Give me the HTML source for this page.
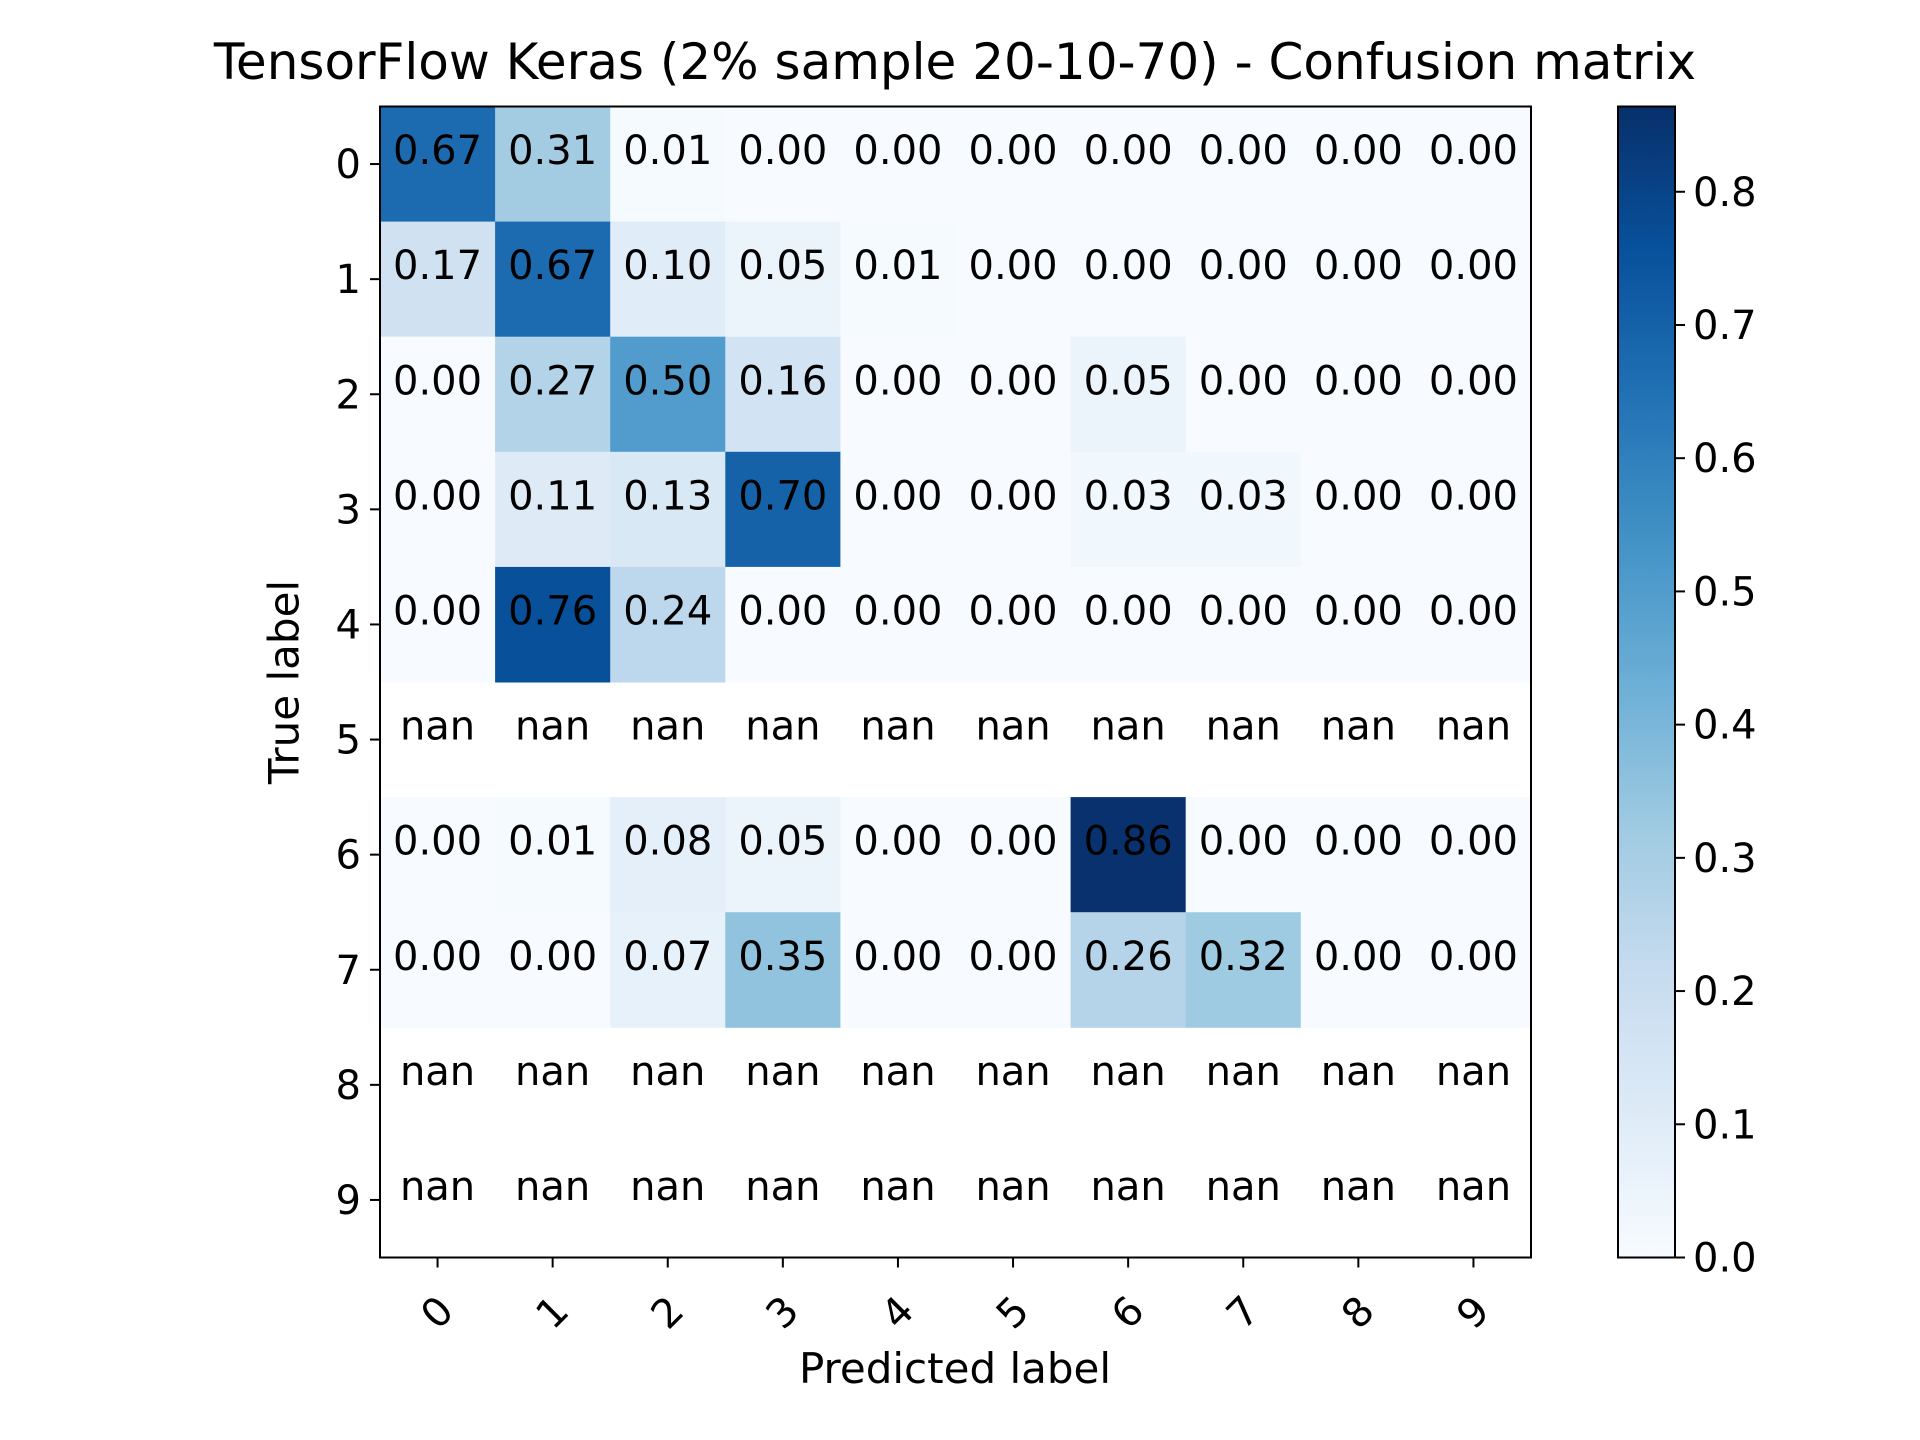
<!DOCTYPE html>
<html><head><meta charset="utf-8"><style>
html,body{margin:0;padding:0;background:#fff;}
svg{display:block;font-family:"DejaVu Sans","Liberation Sans",sans-serif;}
</style></head><body>
<svg id="chart" width="1920" height="1440" viewBox="0 0 1920 1440">
<text x="955" y="79" font-size="50" text-anchor="middle">TensorFlow Keras (2% sample 20-10-70) - Confusion matrix</text>
<g id="cells"></g>
<g id="axes"></g>
<g id="cbar"></g>
<text x="955" y="1383" font-size="42" text-anchor="middle">Predicted label</text>
<text x="0" y="0" font-size="42" text-anchor="middle" dominant-baseline="central" transform="translate(284,682) rotate(-90)">True label</text>
</svg>
<script>
const classes = ["0","1","2","3","4","5","6","7","8","9"];
const matrix = [
 [0.67,0.31,0.01,0.00,0.00,0.00,0.00,0.00,0.00,0.00],
 [0.17,0.67,0.10,0.05,0.01,0.00,0.00,0.00,0.00,0.00],
 [0.00,0.27,0.50,0.16,0.00,0.00,0.05,0.00,0.00,0.00],
 [0.00,0.11,0.13,0.70,0.00,0.00,0.03,0.03,0.00,0.00],
 [0.00,0.76,0.24,0.00,0.00,0.00,0.00,0.00,0.00,0.00],
 [null,null,null,null,null,null,null,null,null,null],
 [0.00,0.01,0.08,0.05,0.00,0.00,0.86,0.00,0.00,0.00],
 [0.00,0.00,0.07,0.35,0.00,0.00,0.26,0.32,0.00,0.00],
 [null,null,null,null,null,null,null,null,null,null],
 [null,null,null,null,null,null,null,null,null,null]
];
const cbarTicks = [0.0,0.1,0.2,0.3,0.4,0.5,0.6,0.7,0.8];
const vmax = 0.864;

const NS="http://www.w3.org/2000/svg";
const L=380,R=1531,T=106.5,B=1257.5;
const n=classes.length, cw=(R-L)/n, ch=(B-T)/n;
const xs=i=>L+i*cw, ys=i=>T+i*ch;
const stops=[[0,"#f7fbff"],[0.125,"#deebf7"],[0.25,"#c6dbef"],[0.375,"#9ecae1"],[0.5,"#6baed6"],[0.625,"#4292c6"],[0.75,"#2171b5"],[0.875,"#08519c"],[1,"#08306b"]];
function hex(h){return [1,3,5].map(k=>parseInt(h.substr(k,2),16));}
function cmap(v){let t=Math.max(0,Math.min(1,v/vmax));for(let k=1;k<stops.length;k++){if(t<=stops[k][0]){const a=hex(stops[k-1][1]),b=hex(stops[k][1]);const f=(t-stops[k-1][0])/(stops[k][0]-stops[k-1][0]);return "rgb("+a.map((c,j)=>Math.round(c+(b[j]-c)*f)).join(",")+")";}}return stops[8][1];}
function mk(tag,attrs,parent){const e=document.createElementNS(NS,tag);for(const k in attrs)e.setAttribute(k,attrs[k]);parent.appendChild(e);return e;}
const cells=document.getElementById("cells"),axes=document.getElementById("axes"),cbar=document.getElementById("cbar");
matrix.forEach((row,r)=>row.forEach((v,c)=>{
 if(v!==null){const rc=mk("rect",{x:xs(c),y:ys(r),width:cw+0.5,height:ch+0.5,fill:cmap(v)},cells);
 
 }
 const t=mk("text",{x:xs(c)+cw/2,y:ys(r)+ch/2,"font-size":"40","text-anchor":"middle"},cells);
 t.textContent=v===null?"nan":v.toFixed(2);
 
 
}));
mk("rect",{x:L,y:T,width:R-L,height:B-T,fill:"none",stroke:"#000","stroke-width":"2"},axes);
classes.forEach((lab,i)=>{
 const cx=xs(i)+cw/2, cy=ys(i)+ch/2;
 mk("line",{x1:cx,y1:B,x2:cx,y2:B+10,stroke:"#000","stroke-width":"2"},axes);
 mk("line",{x1:L,y1:cy,x2:L-10,y2:cy,stroke:"#000","stroke-width":"2"},axes);
 const xt=mk("text",{x:0,y:0,"font-size":"40","text-anchor":"middle","dominant-baseline":"central",transform:"translate("+cx+",1313) rotate(-45)"},axes);
 xt.textContent=lab;
 
 
 const yt=mk("text",{x:L-19,y:cy+14,"font-size":"40","text-anchor":"end"},axes);
 yt.textContent=lab;
 
 
});
const CL=1618,CR=1675;
const grad=mk("linearGradient",{id:"g",x1:"0",y1:"1",x2:"0",y2:"0"},mk("defs",{},cbar));
stops.forEach(s=>mk("stop",{offset:s[0],"stop-color":s[1]},grad));
mk("rect",{x:CL,y:T,width:CR-CL,height:B-T,fill:"url(#g)",stroke:"#000","stroke-width":"2"},cbar);
const cy_=v=>B-(v/vmax)*(B-T);
cbarTicks.forEach(v=>{
 mk("line",{x1:CR,y1:cy_(v),x2:CR+10,y2:cy_(v),stroke:"#000","stroke-width":"2"},cbar);
 const t=mk("text",{x:CR+18,y:cy_(v)+14,"font-size":"40"},cbar);
 t.textContent=v.toFixed(1);
 
 
});
</script>
</body></html>
